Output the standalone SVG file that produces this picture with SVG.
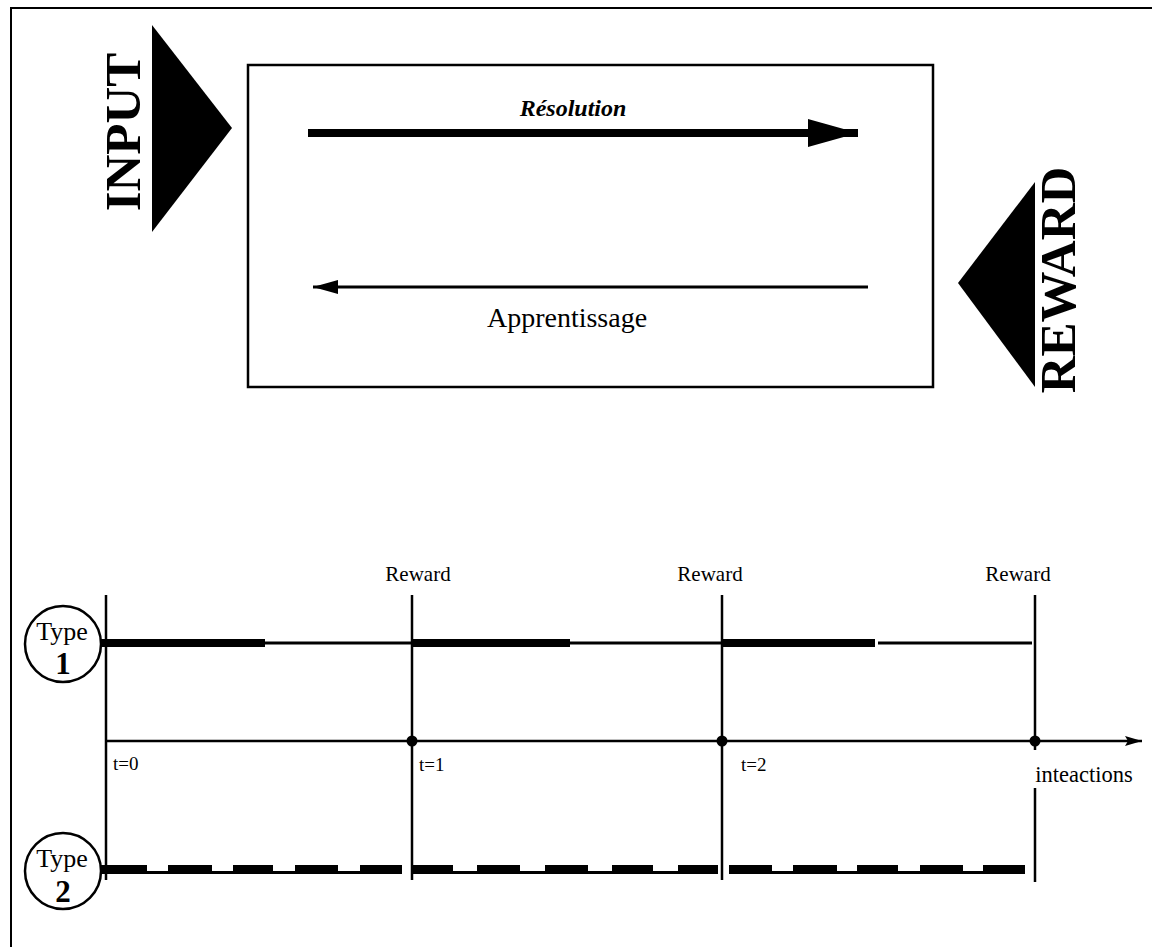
<svg xmlns="http://www.w3.org/2000/svg" width="1152" height="947" viewBox="0 0 1152 947">
  <style>
    .serif { font-family: "Liberation Serif", "Times New Roman", serif; fill: #000; }
    .big { font-size: 51px; font-weight: bold; }
    .lbl { font-size: 21px; }
    .tlbl { font-size: 19px; }
    .ln { stroke: #000; fill: none; }
  </style>
  <defs>
    <marker id="headBig" markerUnits="userSpaceOnUse" markerWidth="52" markerHeight="30" refX="50" refY="15" orient="auto">
      <path d="M0,1 L50,15 L0,29 Z" fill="#000"/>
    </marker>
    <marker id="headSmall" markerUnits="userSpaceOnUse" markerWidth="26" markerHeight="16" refX="25" refY="8" orient="auto">
      <path d="M0,1 L25,8 L0,15 Z" fill="#000"/>
    </marker>
    <marker id="headAxis" markerUnits="userSpaceOnUse" markerWidth="18" markerHeight="12" refX="17" refY="6" orient="auto">
      <path d="M0,1 L17,6 L0,11 L3,6 Z" fill="#000"/>
    </marker>
  </defs>

  <rect width="1152" height="947" fill="#fff"/>

  <!-- page frame -->
  <path class="ln" d="M11,947 L11,8 L1152,8" stroke-width="2"/>

  <!-- input triangle and label -->
  <g id="input">
    <polygon points="152,25 232,128 152,232" fill="#000"/>
    <text class="serif big" transform="translate(140,132) rotate(-90)" text-anchor="middle">INPUT</text>
  </g>

  <!-- reward triangle and label -->
  <g id="reward">
    <polygon points="1035,182 958,283 1035,387" fill="#000"/>
    <text class="serif big" transform="translate(1075,280) rotate(-90)" text-anchor="middle">REWARD</text>
  </g>

  <!-- system box -->
  <g id="system">
    <rect x="248" y="65" width="685" height="322" class="ln" stroke-width="2.5"/>
    <text class="serif" x="573" y="116" font-size="24" font-weight="bold" font-style="italic" text-anchor="middle">Résolution</text>
    <text class="serif" x="567" y="327" font-size="28" text-anchor="middle">Apprentissage</text>
  </g>

  <!-- timeline: type 1 and type 2 bubbles -->
  <g id="type1">
    <circle cx="63" cy="644" r="38" class="ln" stroke-width="2.5"/>
    <text class="serif" x="62" y="640" font-size="26" text-anchor="middle">Type</text>
    <text class="serif" x="63" y="674" font-size="31" font-weight="bold" text-anchor="middle">1</text>
  </g>
  <g id="type2">
    <circle cx="63" cy="871" r="38" class="ln" stroke-width="2.5"/>
    <text class="serif" x="62" y="867" font-size="26" text-anchor="middle">Type</text>
    <text class="serif" x="63" y="902" font-size="31" font-weight="bold" text-anchor="middle">2</text>
  </g>

  <!-- reward labels -->
  <g id="reward-labels" class="serif lbl" text-anchor="middle">
    <text x="418" y="581">Reward</text>
    <text x="710" y="581">Reward</text>
    <text x="1018" y="581">Reward</text>
  </g>

  <!-- time labels -->
  <g id="time-labels" class="serif tlbl">
    <text x="113" y="770">t=0</text>
    <text x="419" y="771">t=1</text>
    <text x="741" y="771">t=2</text>
    <text x="1084" y="782" font-size="22.5" text-anchor="middle">inteactions</text>
  </g>

  <g id="connectors">
    <!-- resolution / learning arrows -->
    <line x1="308" y1="133" x2="858" y2="133" class="ln" stroke-width="8" marker-end="url(#headBig)"/>
    <line x1="868" y1="287" x2="313" y2="287" class="ln" stroke-width="3" marker-end="url(#headSmall)"/>

    <!-- reward instants -->
    <line x1="106" y1="595" x2="106" y2="880" class="ln" stroke-width="2.5"/>
    <line x1="412" y1="595" x2="412" y2="880" class="ln" stroke-width="2.5"/>
    <line x1="722" y1="595" x2="722" y2="880" class="ln" stroke-width="2.5"/>
    <path d="M1035,595 V750 M1035,788 V882" class="ln" stroke-width="2.5"/>

    <!-- interaction axis -->
    <line x1="106" y1="741" x2="1142" y2="741" class="ln" stroke-width="2.5" marker-end="url(#headAxis)"/>
    <circle cx="412" cy="741" r="5.5" fill="#000"/>
    <circle cx="722" cy="741" r="5.5" fill="#000"/>
    <circle cx="1035" cy="741" r="5.5" fill="#000"/>

    <!-- type 1: resolution (thick) then learning (thin) -->
    <g class="ln">
      <line x1="101" y1="643" x2="265" y2="643" stroke-width="8"/>
      <line x1="265" y1="643" x2="412" y2="643" stroke-width="3"/>
      <line x1="412" y1="643" x2="570" y2="643" stroke-width="8"/>
      <line x1="570" y1="643" x2="722" y2="643" stroke-width="3"/>
      <line x1="722" y1="643" x2="875" y2="643" stroke-width="8"/>
      <line x1="878" y1="643" x2="1032" y2="643" stroke-width="3"/>
    </g>

    <!-- type 2: interleaved resolution and learning -->
    <g class="ln">
      <line x1="101" y1="872.5" x2="402" y2="872.5" stroke-width="3"/>
      <line x1="412" y1="872.5" x2="718" y2="872.5" stroke-width="3"/>
      <line x1="729" y1="872.5" x2="1025" y2="872.5" stroke-width="3"/>
      <line x1="101" y1="869.5" x2="402" y2="869.5" stroke-width="9" stroke-dasharray="46 21 44 21 40 22 43 22 42"/>
      <line x1="412" y1="869.5" x2="718" y2="869.5" stroke-width="9" stroke-dasharray="41 24 43 25 43 24 41 25 40"/>
      <line x1="729" y1="869.5" x2="1025" y2="869.5" stroke-width="9" stroke-dasharray="43 21 44 20 41 22 43 20 42"/>
    </g>
  </g>
</svg>
